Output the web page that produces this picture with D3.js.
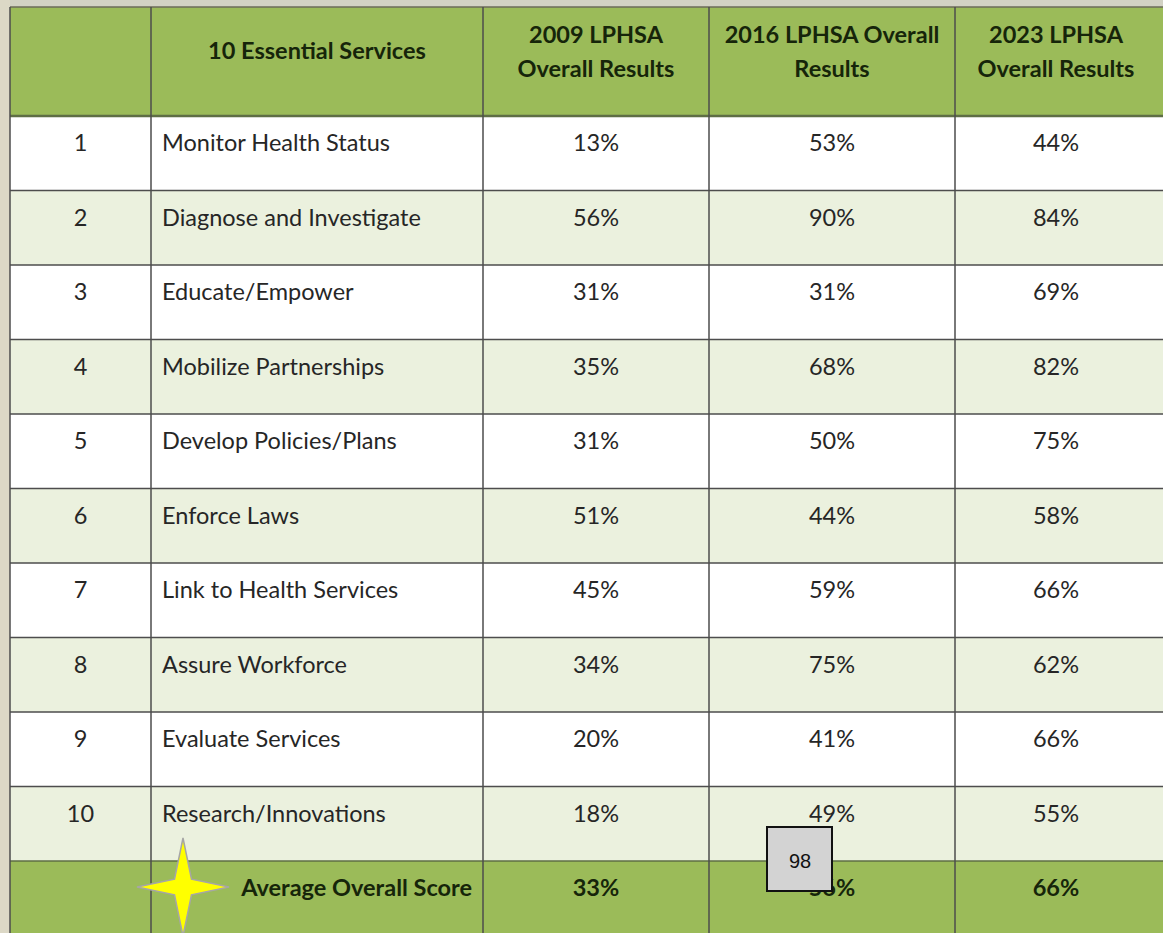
<!DOCTYPE html>
<html>
<head>
<meta charset="utf-8">
<script src="https://cdn.jsdelivr.net/npm/d3@7"></script>
<style>
  body { margin: 0; background: #dcd8c6; }
  svg { display: block; }
</style>
</head>
<body>
<div id="table-chart"></div>
<script>
const headers = ['', '10 Essential Services', '2009 LPHSA|Overall Results', '2016 LPHSA Overall|Results', '2023 LPHSA|Overall Results']
const ranks = ['1', '2', '3', '4', '5', '6', '7', '8', '9', '10']
const services = [
  'Monitor Health Status',
  'Diagnose and Investigate',
  'Educate/Empower',
  'Mobilize Partnerships',
  'Develop Policies/Plans',
  'Enforce Laws',
  'Link to Health Services',
  'Assure Workforce',
  'Evaluate Services',
  'Research/Innovations'
]
const results2009 = [13, 56, 31, 35, 31, 51, 45, 34, 20, 18]
const results2016 = [53, 90, 31, 68, 50, 44, 59, 75, 41, 49]
const results2023 = [44, 84, 69, 82, 75, 58, 66, 62, 66, 55]
const averageLabel = 'Average Overall Score'
const averages = [33, 56, 66]
const pageNote = '98'

const width = 1163
const height = 933

const svg = d3
  .select('#table-chart')
  .append('svg')
  .attr('width', width)
  .attr('height', height)

// page background strips
svg.append('rect').attr('width', width).attr('height', height).attr('fill', '#dcd8c6')
svg.append('rect').attr('x', 10).attr('y', 0).attr('width', width).attr('height', 7).attr('fill', '#d2d2c4')

// column edges
const colEdges = [10, 151, 483, 709, 955, 1175]
const headerTop = 7
const headerBottom = 116
const fontSize = 23.5

const rowScale = d3
  .scaleBand()
  .domain(d3.range(11))
  .range([headerBottom, headerBottom + 74.5 * 11])

const rows = ranks.map((r, i) => ({
  cells: [r, services[i], results2009[i] + '%', results2016[i] + '%', results2023[i] + '%'],
  fill: i % 2 === 0 ? '#ffffff' : '#ebf1de',
  bold: false
}))
rows.push({
  cells: ['', averageLabel].concat(averages.map(d => d + '%')),
  fill: '#9bbb59',
  bold: true
})

// header
svg
  .append('rect')
  .attr('x', colEdges[0])
  .attr('y', headerTop)
  .attr('width', width - colEdges[0])
  .attr('height', headerBottom - headerTop)
  .attr('fill', '#9bbb59')

// body rows
const rowG = svg
  .selectAll('.row')
  .data(rows)
  .enter()
  .append('g')
  .attr('class', 'row')
  .attr('transform', (d, i) => 'translate(0,' + rowScale(i) + ')')

rowG
  .append('rect')
  .attr('x', colEdges[0])
  .attr('width', width - colEdges[0])
  .attr('height', rowScale.bandwidth())
  .attr('fill', d => d.fill)

rowG
  .selectAll('text')
  .data(d => d.cells.map((c, j) => ({ text: c, col: j, bold: d.bold })))
  .enter()
  .append('text')
  .attr('x', d => {
    if (d.col === 1 && !d.bold) return colEdges[1] + 11
    if (d.col === 1 && d.bold) return colEdges[2] - 11
    return (colEdges[d.col] + Math.min(colEdges[d.col + 1], width)) / 2 - (d.col === 4 ? 3 : 0)
  })
  .attr('y', rowScale.bandwidth() / 2 - 2)
  .attr('text-anchor', d => d.col === 1 ? (d.bold ? 'end' : 'start') : 'middle')
  .attr('font-family', 'Lato, "Open Sans", sans-serif')
  .attr('font-size', fontSize)
  .attr('font-weight', d => d.bold ? 700 : 400)
  .attr('fill', d => d.bold ? '#16250a' : '#262626')
  .text(d => d.text)

// header text
const headerText = svg
  .selectAll('.header-text')
  .data(headers)
  .enter()
  .append('text')
  .attr('class', 'header-text')
  .attr('x', (d, j) => (colEdges[j] + Math.min(colEdges[j + 1], width)) / 2 - (j === 4 ? 3 : 0))
  .attr('text-anchor', 'middle')
  .attr('font-family', 'Lato, "Open Sans", sans-serif')
  .attr('font-size', fontSize)
  .attr('font-weight', 700)
  .attr('fill', '#16250a')

headerText.each(function(d) {
  const lines = d.split('|')
  const t = d3.select(this)
  lines.forEach((line, k) => {
    t.append('tspan')
      .attr('x', t.attr('x'))
      .attr('y', lines.length === 1 ? 59 : 43 + k * 34)
      .text(line)
  })
})

// grid lines
const gridColor = '#4d4d4d'
const bottoms = d3.range(11).map(i => rowScale(i))
svg
  .selectAll('.hline')
  .data(bottoms)
  .enter()
  .append('line')
  .attr('x1', colEdges[0])
  .attr('x2', width)
  .attr('y1', d => d)
  .attr('y2', d => d)
  .attr('stroke', (d, i) => i === 0 || i === 10 ? '#5e6e45' : gridColor)
  .attr('stroke-width', (d, i) => i === 0 ? 2.5 : 1.5)

svg
  .append('line')
  .attr('x1', colEdges[0])
  .attr('x2', width)
  .attr('y1', headerTop)
  .attr('y2', headerTop)
  .attr('stroke', '#6b6b5a')
  .attr('stroke-width', 1.5)

svg
  .selectAll('.vline')
  .data(colEdges.slice(0, 5))
  .enter()
  .append('line')
  .attr('x1', d => d)
  .attr('x2', d => d)
  .attr('y1', headerTop)
  .attr('y2', height)
  .attr('stroke', gridColor)
  .attr('stroke-width', 1.5)

// star marker on the average row
const starCx = 183
const starCy = 887
const star = d3.range(8).map(i => {
  const angle = -Math.PI / 2 + i * Math.PI / 4
  const outer = i % 2 === 0
  const rx = outer ? 46 : 12
  const ry = outer ? 49 : 11
  return [starCx + rx * Math.cos(angle), starCy + ry * Math.sin(angle)]
})
svg
  .append('path')
  .attr('d', d3.line()(star) + 'Z')
  .attr('fill', '#ffff00')
  .attr('stroke', '#a6a6a6')
  .attr('stroke-width', 1.5)

// page number box
svg
  .append('rect')
  .attr('x', 767)
  .attr('y', 827)
  .attr('width', 65)
  .attr('height', 64)
  .attr('fill', '#d3d3d3')
  .attr('stroke', '#111')
  .attr('stroke-width', 2)

svg
  .append('text')
  .attr('x', 800)
  .attr('y', 868)
  .attr('text-anchor', 'middle')
  .attr('font-family', 'Liberation Sans, Arial, sans-serif')
  .attr('font-size', 20)
  .attr('fill', '#111')
  .text(pageNote)
</script>
</body>
</html>
